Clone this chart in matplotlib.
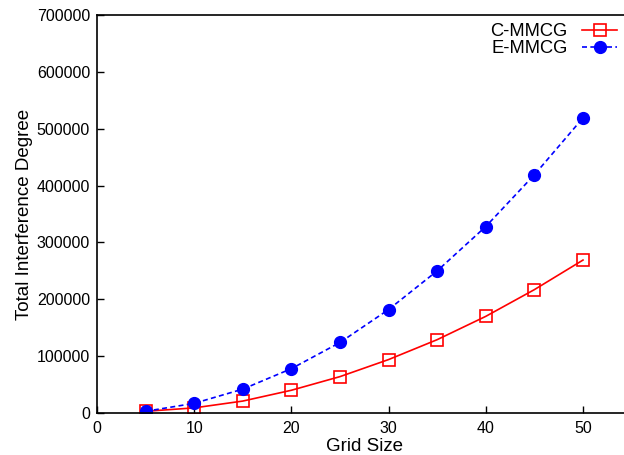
import matplotlib
matplotlib.use('Agg')
import matplotlib.pyplot as plt

grid_size = [5, 10, 15, 20, 25, 30, 35, 40, 45, 50]
c_mmcg = [3000, 9000, 21000, 40000, 64000, 94000, 129000, 170000, 217000, 269000]
e_mmcg = [3000, 17000, 42000, 78000, 124000, 182000, 250000, 328000, 419000, 519000]

plt.rcParams['font.family'] = ['Liberation Sans', 'DejaVu Sans']

fig = plt.figure(figsize=(6.24, 4.55), dpi=100)
ax = fig.add_axes([97 / 624, 42 / 455, 534.6 / 624, 398 / 455])

ax.plot(grid_size, c_mmcg, color='red', lw=1.2, marker='s', markersize=8.5,
        markerfacecolor='none', markeredgecolor='red', markeredgewidth=1.2,
        label='C-MMCG')
ax.plot(grid_size, e_mmcg, color='blue', lw=1.2, linestyle=(0, (3, 2)),
        marker='o', markersize=8.5, markerfacecolor='blue',
        markeredgecolor='blue', label='E-MMCG')

ax.set_xlim(0, 55)
ax.set_ylim(0, 700000)
ax.set_xticks([0, 10, 20, 30, 40, 50])
ax.set_yticks(range(0, 700001, 100000))
ax.tick_params(direction='in', length=5, width=1, labelsize=11.5, top=False, right=False)
ax.tick_params(axis='x', pad=6)
ax.tick_params(axis='y', pad=5)
for s in ax.spines.values():
    s.set_linewidth(1.2)

ax.set_xlabel('Grid Size', fontsize=13.5, labelpad=1)
ax.set_ylabel('Total Interference Degree', fontsize=13.5, labelpad=3)

fig.legend(loc='upper right', bbox_to_anchor=(617 / 624, 1 - 23 / 455),
           markerfirst=False, frameon=False, fontsize=13.2, handlelength=1.9,
           labelspacing=0.0, handletextpad=0.8, borderaxespad=0, borderpad=0)

fig.savefig('out.png', dpi=100)
